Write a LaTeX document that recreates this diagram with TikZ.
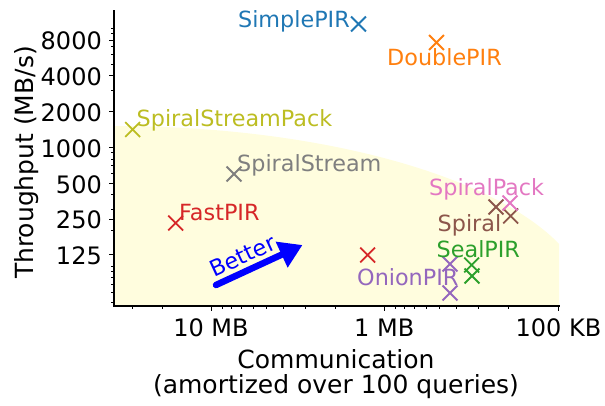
\documentclass[tikz,border=0pt]{standalone}
\usepackage{fontspec}
\setmainfont{DejaVu Sans}
\usetikzlibrary{arrows.meta,shapes.misc}
\definecolor{tblue}{RGB}{31,119,180}
\definecolor{torange}{RGB}{255,127,14}
\definecolor{tgreen}{RGB}{44,160,44}
\definecolor{tred}{RGB}{214,39,40}
\definecolor{tpurple}{RGB}{148,103,189}
\definecolor{tbrown}{RGB}{140,86,75}
\definecolor{tpink}{RGB}{227,119,194}
\definecolor{tgray}{RGB}{127,127,127}
\definecolor{tolive}{RGB}{188,189,34}
\definecolor{bgyellow}{RGB}{255,253,222}
\definecolor{pureblue}{RGB}{0,0,255}
\begin{document}
\begin{tikzpicture}[x=1pt,y=-1pt,
  mk/.style={cross out, draw=#1, line width=1.8pt, minimum size=13pt, inner sep=0pt},
  lbl/.style={anchor=base west, inner sep=0pt, text=#1, font=\fontsize{22.3}{26}\selectfont},
  tlab/.style={inner sep=0pt, font=\fontsize{24}{28}\selectfont},
  alab/.style={inner sep=0pt, font=\fontsize{25}{29}\selectfont},
  spine/.style={line width=1.3pt, line cap=rect},
  tk/.style={line width=1pt}]
\useasboundingbox (0,0) rectangle (605,405);
% background region
\begin{scope}
  \clip (114,11) rectangle (559,306);
  \fill[bgyellow] (114,306) ellipse [x radius=474pt, y radius=180pt];
\end{scope}
% spines
\coordinate (ytop) at (114,11);
\coordinate (orig) at (114,306);
\coordinate (xend) at (559,306);
\draw[spine] (ytop) -- (orig) -- (xend);
% y ticks
\foreach \v in {50,60,70,80,90,100,200,300,400,600,700,800,900,3000,5000,6000,7000,9000,10000}
  \draw[tk] (114,{147.5-119.03*log10(\v/1000)}) -- ++(-3,0);
\foreach \v in {125,250,500,1000,2000,4000,8000}{
  \draw[tk] (114,{147.5-119.03*log10(\v/1000)}) -- ++(-5,0);
  \node[tlab, anchor=east] (yl\v) at (102,{148.5-119.03*log10(\v/1000)}) {\v};
}
% x ticks
\foreach \v in {0.2,0.3,0.4,0.5,0.6,0.7,0.8,0.9,2,3,4,5,6,7,8,9,20,30}
  \draw[tk] ({387.8-173*log10(\v)},306) -- ++(0,3);
\foreach \x/\t/\n in {211/10 MB/a,384.2/1 MB/b,558.5/100 KB/c}{
  \draw[tk] (\x,306) -- ++(0,5);
  \node[tlab, anchor=base] (xl\n) at (\x,336.5) {\t};
}
% axis labels
\node[alab, anchor=base] (xlab1) at (336,368) {Communication};
\node[alab, anchor=base] (xlab2) at (336,393.3) {(amortized over 100 queries)};
\node[alab, anchor=base, rotate=90] (ylab) at (33.3,162.5) {Throughput (MB/s)};
% markers
\node[mk=tblue] (simple) at (358.5,24) {};
\node[mk=torange] (double) at (436.5,42.5) {};
\node[mk=tolive] (ssp) at (132.7,129.5) {};
\node[mk=tgray] (ss) at (234,174) {};
\node[mk=tred] (fast1) at (175.7,223) {};
\node[mk=tred] (fast2) at (367.7,255) {};
\node[mk=tpurple] (onion1) at (450,264) {};
\node[mk=tpurple] (onion2) at (450,293) {};
\node[mk=tgreen] (seal1) at (471.7,265) {};
\node[mk=tgreen] (seal2) at (472,276) {};
\node[mk=tbrown] (spiral1) at (496,207) {};
\node[mk=tbrown] (spiral2) at (510.7,216) {};
\node[mk=tpink] (spack) at (510,203) {};
% labels
\node[lbl=tblue, anchor=base east] (lsimple) at (350,27) {SimplePIR};
\node[lbl=torange] (ldouble) at (387,65) {DoublePIR};
\node[lbl=tolive] (lssp) at (136.5,126.5) {SpiralStreamPack};
\node[lbl=tgray] (lss) at (237,171.5) {SpiralStream};
\node[lbl=tred] (lfast) at (179,220.5) {FastPIR};
\node[lbl=tpurple] (lonion) at (357,285) {OnionPIR};
\node[lbl=tgreen] (lseal) at (436.5,257.5) {SealPIR};
\node[lbl=tbrown] (lspiral) at (437.5,231) {Spiral};
\node[lbl=tpink] (lspack) at (429,195) {SpiralPack};
% better arrow
\coordinate (bt) at (216,285);
\coordinate (bh) at (302.5,245);
\draw[pureblue, line width=6.5pt, line cap=round, -{Triangle[length=23pt,width=27pt]}] (bt) -- (bh);
\node[inner sep=0pt, text=pureblue, rotate=24.8, font=\fontsize{22.3}{26}\selectfont] (better) at (242.5,256) {Better};
\end{tikzpicture}
\end{document}
